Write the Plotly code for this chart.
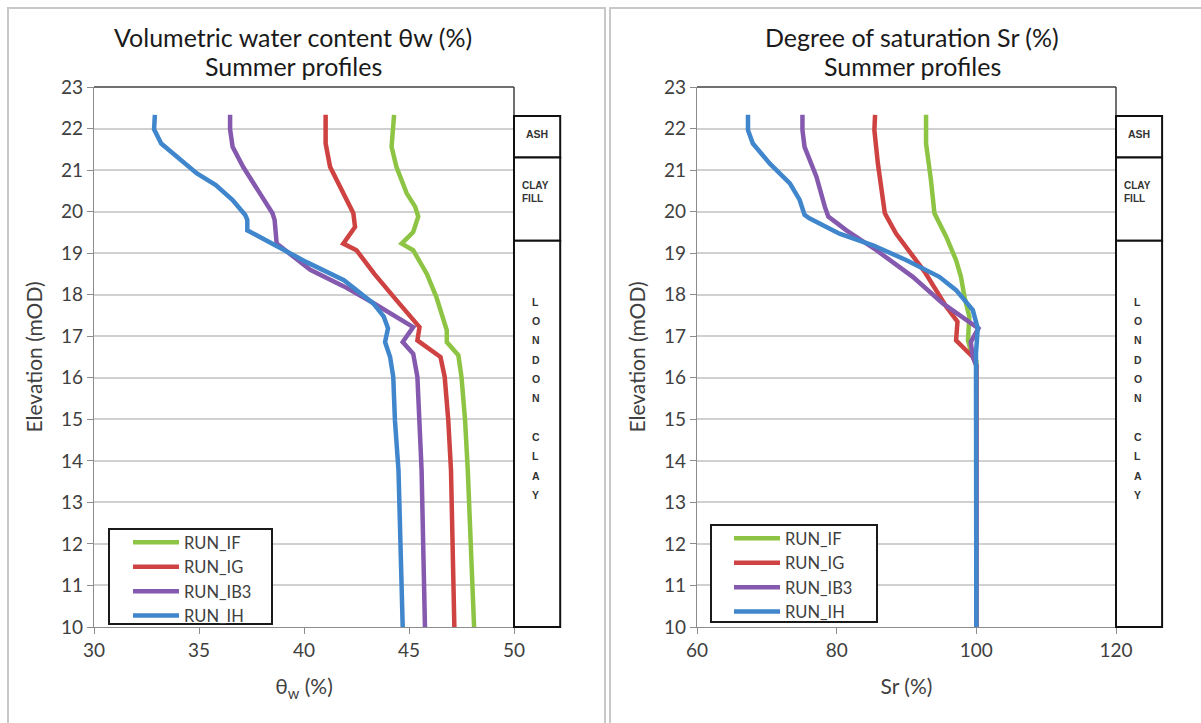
import plotly.graph_objects as go

W, H = 1201, 723

series_names = ["RUN_IF", "RUN_IG", "RUN_IB3", "RUN_IH"]
series_colors = ["#8DC443", "#CE4341", "#8459AE", "#3F86CC"]

# ---- Left chart: volumetric water content (%) vs elevation (mOD)
elev_w_IF = [22.33, 21.96, 21.56, 21.08, 20.44, 20.12, 19.88, 19.51, 19.23, 19.07, 18.5, 17.95, 17.14, 16.86, 16.54, 16.02, 14.98, 13.77, 10.0]
theta_IF = [44.29, 44.25, 44.17, 44.4, 44.89, 45.29, 45.44, 45.2, 44.65, 45.2, 45.85, 46.3, 46.8, 46.8, 47.35, 47.5, 47.67, 47.8, 48.1]

elev_w_IG = [22.33, 21.64, 21.08, 20.44, 19.96, 19.63, 19.23, 19.07, 18.5, 17.87, 17.22, 16.9, 16.5, 16.02, 14.98, 13.77, 10.0]
theta_IG = [41.03, 41.03, 41.24, 41.87, 42.35, 42.43, 41.87, 42.5, 43.35, 44.4, 45.5, 45.4, 46.5, 46.7, 46.87, 47.0, 47.16]

elev_w_IB3 = [22.33, 21.98, 21.56, 21.08, 20.44, 19.96, 19.8, 19.23, 18.6, 18.2, 17.8, 17.5, 17.22, 16.86, 16.58, 16.02, 14.98, 13.77, 10.0]
theta_IB3 = [36.48, 36.48, 36.6, 37.1, 37.9, 38.5, 38.6, 38.7, 40.3, 41.9, 43.3, 44.25, 45.2, 44.7, 45.2, 45.4, 45.5, 45.6, 45.76]

elev_w_IH = [22.33, 21.98, 21.64, 21.24, 20.92, 20.64, 20.28, 19.92, 19.8, 19.55, 19.23, 18.79, 18.35, 17.79, 17.47, 17.19, 16.86, 16.5, 16.02, 14.98, 13.77, 10.0]
theta_IH = [32.9, 32.86, 33.2, 34.1, 34.9, 35.8, 36.6, 37.2, 37.3, 37.3, 38.5, 40.1, 41.9, 43.3, 43.8, 44.0, 43.86, 44.1, 44.25, 44.33, 44.5, 44.7]

# ---- Right chart: degree of saturation (%) vs elevation (mOD)
elev_s_IF = [22.33, 21.64, 20.76, 19.96, 19.39, 18.83, 18.43, 17.95, 17.47, 16.9, 16.66, 16.4, 10.0]
sr_IF = [92.8, 92.8, 93.5, 94.0, 95.7, 97.1, 97.8, 98.3, 99.0, 98.8, 99.2, 100.0, 100.0]

elev_s_IG = [22.33, 21.96, 21.16, 19.96, 19.47, 18.75, 18.55, 17.71, 17.35, 16.9, 16.5, 16.3, 10.0]
sr_IG = [85.5, 85.4, 85.9, 86.9, 88.5, 91.6, 92.6, 95.7, 97.3, 97.1, 99.5, 100.0, 100.0]

elev_s_IB3 = [22.33, 21.96, 21.56, 20.84, 20.12, 19.88, 19.55, 19.07, 18.43, 17.79, 17.19, 16.86, 16.5, 16.3, 10.0]
sr_IB3 = [75.1, 75.1, 75.4, 77.1, 78.3, 78.8, 81.4, 85.7, 90.9, 95.2, 100.3, 99.2, 99.5, 100.0, 100.0]

elev_s_IH = [22.33, 21.96, 21.64, 21.16, 20.68, 20.28, 19.92, 19.84, 19.47, 19.19, 18.83, 18.43, 18.11, 17.63, 17.19, 16.58, 10.0]
sr_IH = [67.3, 67.3, 68.0, 70.4, 73.3, 74.7, 75.4, 76.1, 80.4, 85.2, 90.0, 94.7, 97.1, 99.5, 100.2, 99.95, 100.0]

# Strata column
strata_labels = ["ASH", "CLAY<br>FILL", "LONDON CLAY"]
strata_top = [22.3, 21.3, 19.3]
strata_bottom = [21.3, 19.3, 10.0]

elev_range = [10, 23]
x_left_range = [30, 50]
x_left_ticks = [30, 35, 40, 45, 50]
x_right_range = [60, 120]
x_right_ticks = [60, 80, 100, 120]

FONT = "Lato"
TXT = "#404040"

left_data = [(elev_w_IF, theta_IF), (elev_w_IG, theta_IG), (elev_w_IB3, theta_IB3), (elev_w_IH, theta_IH)]
right_data = [(elev_s_IF, sr_IF), (elev_s_IG, sr_IG), (elev_s_IB3, sr_IB3), (elev_s_IH, sr_IH)]

fig = go.Figure()
for name, col, (e, v) in zip(series_names, series_colors, left_data):
    fig.add_trace(go.Scatter(x=v, y=e, mode="lines", name=name, xaxis="x", yaxis="y",
                             line=dict(color=col, width=4.5), legend="legend"))
for name, col, (e, v) in zip(series_names, series_colors, right_data):
    fig.add_trace(go.Scatter(x=v, y=e, mode="lines", name=name, xaxis="x2", yaxis="y2",
                             line=dict(color=col, width=4.5), legend="legend2"))

ydom = [1 - 627 / H, 1 - 87 / H]
common_x = dict(showline=True, linecolor="#8c8c8c", linewidth=1.2, ticks="outside", ticklen=6,
                tickcolor="#8c8c8c", showgrid=False, zeroline=False, automargin=False,
                tickfont=dict(size=19, color=TXT, family=FONT))
common_y = dict(range=elev_range, dtick=1, showline=True, linecolor="#8c8c8c", linewidth=1.2,
                ticks="outside", ticklen=6, tickcolor="#8c8c8c", showgrid=True, automargin=False,
                gridcolor="#d0d0d0", gridwidth=1.5, zeroline=False,
                tickfont=dict(size=19, color=TXT, family=FONT), domain=ydom)

leg_common = dict(xanchor="left", yanchor="top", bgcolor="rgba(0,0,0,0)", borderwidth=0,
                  itemwidth=46, font=dict(size=16.5, color=TXT, family=FONT))

fig.update_layout(
    width=W, height=H, autosize=False,
    margin=dict(l=0, r=0, t=0, b=0, pad=0, autoexpand=False),
    paper_bgcolor="white", plot_bgcolor="white",
    font=dict(family=FONT, color=TXT),
    xaxis=dict(domain=[94 / W, 514 / W], range=x_left_range, tickvals=x_left_ticks, anchor="y",
               title=dict(text="θ<sub>w</sub> (%)", font=dict(size=21, color=TXT), standoff=19), **common_x),
    yaxis=dict(anchor="x", title=dict(text="Elevation (mOD)", font=dict(size=21, color=TXT), standoff=12), **common_y),
    xaxis2=dict(domain=[697 / W, 1116 / W], range=x_right_range, tickvals=x_right_ticks, anchor="y2",
                title=dict(text="Sr (%)", font=dict(size=21, color=TXT), standoff=19), **common_x),
    yaxis2=dict(anchor="x2", title=dict(text="Elevation (mOD)", font=dict(size=21, color=TXT), standoff=12), **common_y),
    legend=dict(x=128 / W, y=1 - 525 / H, **leg_common),
    legend2=dict(x=729 / W, y=1 - 521 / H, **leg_common),
    showlegend=True,
)

shapes = []
annotations = []
# Panel frames
shapes.append(dict(type="rect", xref="paper", yref="paper", x0=8 / W, x1=605 / W, y0=-0.05, y1=1 - 8 / H,
                   line=dict(color="#c8c8c8", width=2), layer="below"))
shapes.append(dict(type="rect", xref="paper", yref="paper", x0=610 / W, x1=1.05, y0=-0.05, y1=1 - 8 / H,
                   line=dict(color="#c8c8c8", width=2), layer="below"))
# Legend frames
for (lx0, ly0, lx1, ly1) in [(109, 529, 272, 624), (711, 525, 877, 622)]:
    shapes.append(dict(type="rect", xref="paper", yref="paper", x0=lx0 / W, x1=lx1 / W,
                       y0=1 - ly1 / H, y1=1 - ly0 / H, line=dict(color="#1a1a1a", width=2),
                       fillcolor="white", layer="above"))

titles = [(["Volumetric water content θw (%)", "Summer profiles"], 293 / W),
          (["Degree of saturation Sr (%)", "Summer profiles"], 912 / W)]
title_rows = [37, 66]
for lines, xc in titles:
    for txt, yr in zip(lines, title_rows):
        annotations.append(dict(text=txt, xref="paper", yref="paper", x=xc, y=1 - yr / H, showarrow=False,
                                xanchor="center", yanchor="middle",
                                font=dict(size=25, color="#1a1a1a", family=FONT)))

for ax in ["x", "x2"]:
    yax = "y" if ax == "x" else "y2"
    # top and right frame of plot area
    shapes.append(dict(type="line", xref=f"{ax} domain", yref=f"{yax} domain", x0=0, x1=1, y0=1, y1=1,
                       line=dict(color="#404040", width=1.5)))
    shapes.append(dict(type="line", xref=f"{ax} domain", yref=f"{yax} domain", x0=1, x1=1, y0=0, y1=1,
                       line=dict(color="#404040", width=1.5)))
    span = elev_range[1] - elev_range[0]
    for lab, top, bot in zip(strata_labels, strata_top, strata_bottom):
        shapes.append(dict(type="rect", xref=f"{ax} domain", yref=f"{yax} domain", x0=1.0, x1=1.11,
                           y0=(bot - elev_range[0]) / span, y1=(top - elev_range[0]) / span,
                           line=dict(color="#111111", width=2), fillcolor="white"))
    # labels
    annotations.append(dict(text="<b>ASH</b>", xref=f"{ax} domain", yref=yax, x=1.055, y=21.86,
                            xanchor="center", yanchor="middle",
                            showarrow=False, font=dict(size=10.5, color="#333333", family="Liberation Sans")))
    annotations.append(dict(text="<b>CLAY<br>FILL</b>", xref=f"{ax} domain", yref=yax, x=1.051, y=20.48,
                            xanchor="center", yanchor="middle", align="left",
                            showarrow=False, font=dict(size=10, color="#333333", family="Liberation Sans")))
    letters = "LONDON CLAY"
    for i, ch in enumerate(letters):
        if ch == " ":
            continue
        annotations.append(dict(text=f"<b>{ch}</b>", xref=f"{ax} domain", yref=yax, x=1.052,
                                y=17.83 - i * 0.465, showarrow=False, xanchor="center", yanchor="middle",
                                font=dict(size=10.5, color="#333333", family="Liberation Sans")))

fig.update_layout(shapes=shapes, annotations=annotations)
fig.write_html("out.html", config={"displayModeBar": False},
               post_script="document.body.style.margin='0';document.body.style.overflow='hidden';")
